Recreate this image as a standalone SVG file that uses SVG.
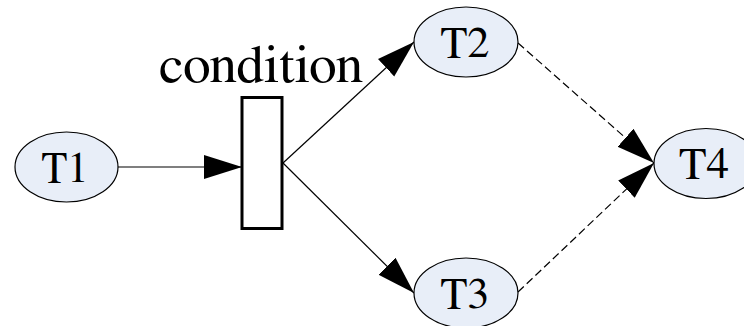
<svg xmlns="http://www.w3.org/2000/svg" width="744" height="326" viewBox="0 0 744 326">
<style>
.node ellipse{fill:#E8EEF8;stroke:#000;stroke-width:1.2}
.txt{font-family:'Nimbus Roman','FreeSerif','Noto Serif','DejaVu Serif',serif;fill:#000;text-anchor:middle}
.lbl{font-size:44px}
.edge{fill:none;stroke:#000;stroke-width:1.2}
.dash{stroke-dasharray:8 4}
</style>
<defs>
<marker id="ah" markerUnits="userSpaceOnUse" markerWidth="40" markerHeight="26" viewBox="0 -13 40 26" refX="38" refY="0" orient="auto">
<path d="M0,-12 L38,0 L0,12 z" fill="#000"/>
</marker>
</defs>
<rect width="744" height="326" fill="#fff"/>
<g id="connectors">
<line class="edge" x1="118" y1="167" x2="242" y2="167" marker-end="url(#ah)"/>
<line class="edge" x1="283" y1="163" x2="414" y2="42" marker-end="url(#ah)"/>
<line class="edge" x1="283" y1="163" x2="414" y2="293" marker-end="url(#ah)"/>
<line class="edge dash" x1="518" y1="43" x2="654" y2="163" marker-end="url(#ah)"/>
<line class="edge dash" x1="518" y1="292" x2="654" y2="163" marker-end="url(#ah)"/>
</g>
<g id="condition">
<rect x="242" y="97.5" width="40" height="131" fill="#fff" stroke="#000" stroke-width="3"/>
<text class="txt" x="261" y="82" font-size="53" textLength="204" lengthAdjust="spacingAndGlyphs">condition</text>
</g>
<g id="T1" class="node">
<ellipse cx="66.5" cy="167" rx="51.5" ry="35"/>
<text class="txt lbl" x="65" y="182" textLength="47" lengthAdjust="spacingAndGlyphs">T1</text>
</g>
<g id="T2" class="node">
<ellipse cx="466" cy="42" rx="52" ry="35"/>
<text class="txt lbl" x="465" y="57" textLength="49" lengthAdjust="spacingAndGlyphs">T2</text>
</g>
<g id="T3" class="node">
<ellipse cx="466" cy="293" rx="52" ry="35"/>
<text class="txt lbl" x="465" y="308" textLength="49" lengthAdjust="spacingAndGlyphs">T3</text>
</g>
<g id="T4" class="node">
<ellipse cx="706" cy="163.5" rx="52" ry="35"/>
<text class="txt lbl" x="704" y="178" textLength="50" lengthAdjust="spacingAndGlyphs">T4</text>
</g>
</svg>
